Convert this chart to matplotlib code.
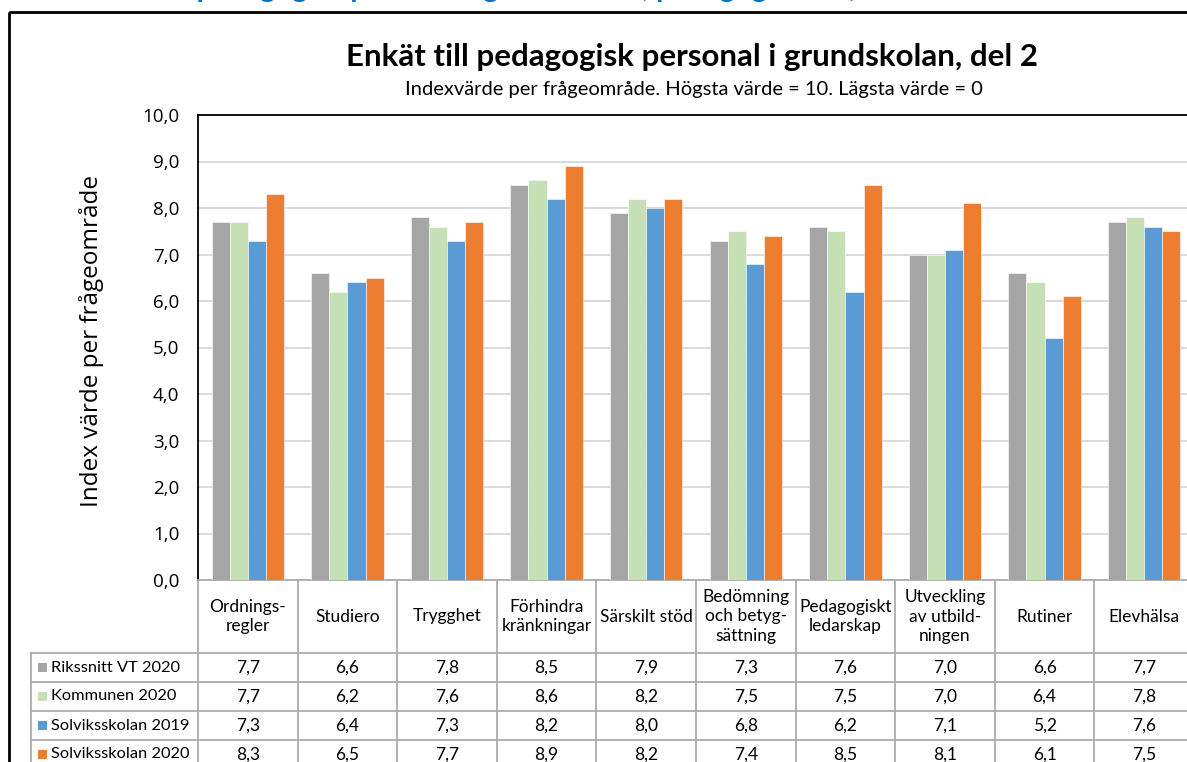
import numpy as np
import matplotlib
matplotlib.use("Agg")
import matplotlib.pyplot as plt
from matplotlib.patches import Rectangle
from matplotlib.ticker import FuncFormatter
from matplotlib.transforms import blended_transform_factory

# data
categories = ["Ordnings-\nregler", "Studiero", "Trygghet", "Förhindra\nkränkningar",
              "Särskilt stöd", "Bedömning\noch betyg-\nsättning", "Pedagogiskt\nledarskap",
              "Utveckling\nav utbild-\nningen", "Rutiner", "Elevhälsa"]
series_names = ["Rikssnitt VT 2020", "Kommunen 2020", "Solviksskolan 2019", "Solviksskolan 2020"]
rikssnitt_vt2020 = [7.7, 6.6, 7.8, 8.5, 7.9, 7.3, 7.6, 7.0, 6.6, 7.7]
kommunen_2020 = [7.7, 6.2, 7.6, 8.6, 8.2, 7.5, 7.5, 7.0, 6.4, 7.8]
solviks_2019 = [7.3, 6.4, 7.3, 8.2, 8.0, 6.8, 6.2, 7.1, 5.2, 7.6]
solviks_2020 = [8.3, 6.5, 7.7, 8.9, 8.2, 7.4, 8.5, 8.1, 6.1, 7.5]
series_values = [rikssnitt_vt2020, kommunen_2020, solviks_2019, solviks_2020]
colors = ["#A5A5A5", "#C5E0B4", "#5B9BD5", "#ED7D31"]

title = "Enkät till pedagogisk personal i grundskolan, del 2"
subtitle = "Indexvärde per frågeområde. Högsta värde = 10. Lägsta värde = 0"
ylabel = "Index värde per frågeområde"

W, H = 1187, 762
fig = plt.figure(figsize=(W / 100, H / 100), dpi=100)

# pixel layout layer
lay = fig.add_axes([0, 0, 1, 1])
lay.set_xlim(0, W)
lay.set_ylim(H, 0)
lay.axis("off")

calibri = ["Lato", "DejaVu Sans"]
segoe = ["Open Sans", "DejaVu Sans"]

# heading above the chart box, cut off by the screenshot edge
lay.text(115, -3, "Enkät pedagogisk personal i grundskolan, pedagogisk del, resultat",
         color="#0070C0", fontsize=21, fontweight="bold", family=calibri, va="baseline")
lay.add_patch(Rectangle((9, 12), 1400, 900, fill=False, ec="black", lw=2))

lay.text(692, 57, title, ha="center", va="center", fontsize=22.5,
         fontweight="bold", family=calibri)
lay.text(694, 89, subtitle, ha="center", va="center", fontsize=14.5, family=calibri)

# main plot area
left, right, top, base = 198, 1194, 115, 580
ax = fig.add_axes([left / W, 1 - base / H, (right - left) / W, (base - top) / H])
n = len(categories)
x = np.arange(n)
w = 1 / 5.5
for k, (vals, c) in enumerate(zip(series_values, colors)):
    ax.bar(x + (k - 1.5) * w, vals, w, color=c, edgecolor="white", linewidth=0.4, zorder=3)

ax.set_xlim(-0.5, n - 0.5)
ax.set_ylim(0, 10)
ax.set_yticks(np.arange(0, 11, 1))
ax.yaxis.set_major_formatter(FuncFormatter(lambda v, p: f"{v:.1f}".replace(".", ",")))
ax.tick_params(axis="y", length=0, pad=13.5, labelsize=13.5)
for lbl in ax.get_yticklabels():
    lbl.set_family(segoe)
ax.set_xticks([])
ax.yaxis.grid(True, color="#D9D9D9", lw=1.4)
ax.set_axisbelow(True)
for s in ["left", "top", "right"]:
    ax.spines[s].set_color("black")
    ax.spines[s].set_linewidth(1.3)
ax.spines["bottom"].set_color("#ABABAB")
ax.spines["bottom"].set_linewidth(1.3)
ax.set_ylabel(ylabel, fontsize=17.5, family=segoe)
ax.yaxis.set_label_coords(-0.094, 0.515)

# data table under the bars
tr = blended_transform_factory(ax.transData, lay.transData)
grid_c = "#ABABAB"
head_bot = 653
row_h = 29
row_lines = [head_bot + row_h * i for i in range(5)]
for b in np.arange(n + 1) - 0.5:
    lay.plot([b, b], [base, H + 10], color=grid_c, lw=1.3, transform=tr, clip_on=False)
lay.plot([31, 31], [head_bot, H + 10], color=grid_c, lw=1.3)
for yl in row_lines:
    lay.plot([31, W + 20], [yl, yl], color=grid_c, lw=1.3)

head_y = (base + head_bot) / 2
for i, cat in enumerate(categories):
    lay.text(i, head_y, cat, transform=tr, ha="center", va="center",
             fontsize=12.5, family=calibri, linespacing=1.25)

for r, (name, vals, c) in enumerate(zip(series_names, series_values, colors)):
    yc = head_bot + row_h * (r + 0.5)
    lay.add_patch(Rectangle((38, yc - 4.5), 9, 9, color=c, lw=0))
    lay.text(51, yc, name, ha="left", va="center", fontsize=11.8, family=calibri)
    for i, v in enumerate(vals):
        lay.text(i, yc, f"{v:.1f}".replace(".", ","), transform=tr,
                 ha="center", va="center", fontsize=12.5, family=calibri)

fig.savefig("out.png", dpi=100)
